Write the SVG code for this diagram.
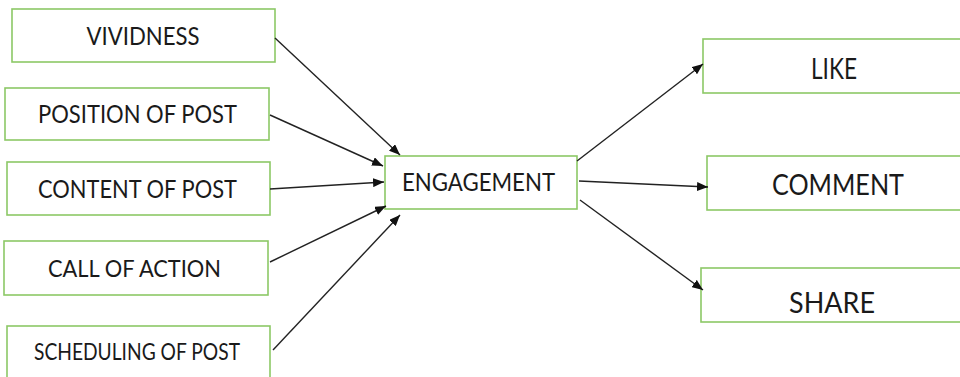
<svg xmlns="http://www.w3.org/2000/svg" width="960" height="377" viewBox="0 0 960 377">
<defs>
<marker id="ah" markerUnits="userSpaceOnUse" markerWidth="12" markerHeight="9" refX="11" refY="4.5" orient="auto">
<path d="M0,0 L11,4.5 L0,9 z" fill="#111"/>
</marker>
<style>
.box{fill:#fff;stroke:#8cc866;stroke-width:1.6}
.t{font-family:Lato,"Liberation Sans",sans-serif;fill:#1a1a1a;text-anchor:middle}
.c{stroke:#222;stroke-width:1.4;fill:none;marker-end:url(#ah)}
</style>
</defs>
<rect width="960" height="377" fill="#fff"/>
<g id="vividness"><rect class="box" x="12" y="9" width="263" height="53"/><text class="t" x="143" y="45" font-size="24.5" textLength="113" lengthAdjust="spacingAndGlyphs">VIVIDNESS</text></g>
<g id="position"><rect class="box" x="5" y="88" width="264" height="52"/><text class="t" x="137.5" y="123" font-size="24.5" textLength="199" lengthAdjust="spacingAndGlyphs">POSITION OF POST</text></g>
<g id="content"><rect class="box" x="7" y="162" width="263" height="53"/><text class="t" x="137.5" y="198" font-size="24.5" textLength="199" lengthAdjust="spacingAndGlyphs">CONTENT OF POST</text></g>
<g id="call"><rect class="box" x="4" y="241" width="264" height="54"/><text class="t" x="134.5" y="277" font-size="24" textLength="173" lengthAdjust="spacingAndGlyphs">CALL OF ACTION</text></g>
<g id="scheduling"><rect class="box" x="7" y="326" width="263" height="60"/><text class="t" x="137" y="360" font-size="22.5" textLength="206" lengthAdjust="spacingAndGlyphs">SCHEDULING OF POST</text></g>
<g id="engagement"><rect class="box" x="385" y="156" width="192" height="53"/><text class="t" x="478.5" y="191" font-size="24.5" textLength="153" lengthAdjust="spacingAndGlyphs">ENGAGEMENT</text></g>
<g id="like"><rect class="box" x="703" y="39" width="262" height="54"/><text class="t" x="834" y="79" font-size="28.5" textLength="46" lengthAdjust="spacingAndGlyphs">LIKE</text></g>
<g id="comment"><rect class="box" x="707" y="156" width="262" height="54"/><text class="t" x="838" y="195" font-size="28.5" textLength="132" lengthAdjust="spacingAndGlyphs">COMMENT</text></g>
<g id="share"><rect class="box" x="701" y="268" width="262" height="54"/><text class="t" x="832" y="313" font-size="28.5" textLength="86" lengthAdjust="spacingAndGlyphs">SHARE</text></g>
<g id="connectors">
<line class="c" x1="275" y1="38" x2="400" y2="155"/>
<line class="c" x1="270" y1="115" x2="383" y2="166"/>
<line class="c" x1="270" y1="189" x2="384" y2="182"/>
<line class="c" x1="270" y1="262" x2="386" y2="206"/>
<line class="c" x1="273" y1="350" x2="400" y2="215"/>
<line class="c" x1="577" y1="161" x2="703" y2="64"/>
<line class="c" x1="579" y1="181" x2="708" y2="187"/>
<line class="c" x1="580" y1="200" x2="703" y2="290"/>
</g>
</svg>
